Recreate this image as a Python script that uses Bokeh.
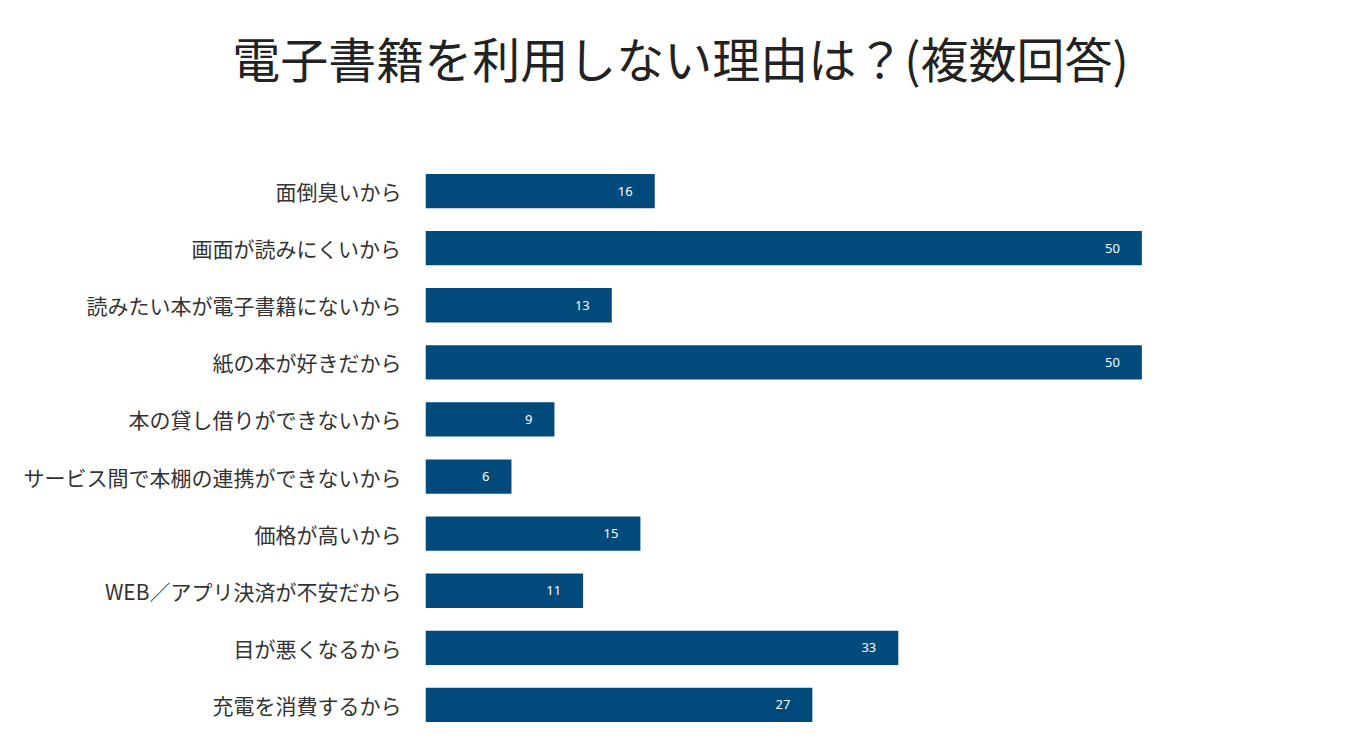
from bokeh.plotting import figure
from bokeh.models import ColumnDataSource, FactorRange, Range1d
from bokeh.layouts import column
from bokeh.core.properties import value
from bokeh.embed import file_html
from bokeh.resources import INLINE

categories = [
    "面倒臭いから",
    "画面が読みにくいから",
    "読みたい本が電子書籍にないから",
    "紙の本が好きだから",
    "本の貸し借りができないから",
    "サービス間で本棚の連携ができないから",
    "価格が高いから",
    "WEB／アプリ決済が不安だから",
    "目が悪くなるから",
    "充電を消費するから",
]
counts = [16, 50, 13, 50, 9, 6, 15, 11, 33, 27]
title_text = "電子書籍を利用しない理由は？(複数回答)"

BAR = "#004a7c"
JP = "Noto Sans CJK JP"
W, H, TH = 1348, 739, 115

# --- title strip (pixel coordinates, y measured from top) ---
t = figure(width=W, height=TH, x_range=Range1d(0, W), y_range=Range1d(TH, 0),
           min_border=0, output_backend="svg", toolbar_location=None)
t.axis.visible = False
t.grid.visible = False
t.outline_line_color = None
t.frame_align = False
t.text(x=[680], y=[56], text=[title_text], text_align="center", text_baseline="middle",
       text_font=value(JP), text_font_size="48px", text_color="#222222")

# --- bar chart ---
src = ColumnDataSource(dict(cat=categories, n=counts, lab=[str(v) for v in counts]))

p = figure(
    y_range=FactorRange(*reversed(categories), range_padding=0),
    x_range=(0, 55),
    frame_width=788, frame_height=571,
    min_border_left=425, min_border_right=135,
    min_border_top=162 - TH, min_border_bottom=6,
    output_backend="svg", toolbar_location=None,
    background_fill_color="white", border_fill_color="white",
)
p.frame_align = False
p.outline_line_color = None
p.xgrid.visible = False
p.ygrid.visible = False
p.xaxis.visible = False

p.hbar(y="cat", right="n", left=0, height=0.6, source=src, color=BAR, line_color=None)
p.text(x="n", y="cat", text="lab", source=src, x_offset=-22,
       text_align="right", text_baseline="middle",
       text_font=value("Noto Sans"), text_font_size="13px", text_color="white")

ya = p.yaxis[0]
ya.axis_line_color = None
ya.major_tick_line_color = None
ya.minor_tick_line_color = None
ya.major_tick_out = 0
ya.major_label_standoff = 24
ya.major_label_text_font = JP
ya.major_label_text_font_size = "21px"
ya.major_label_text_color = "#333333"

layout = column(t, p, spacing=0)
open("out.html", "w").write(file_html(layout, INLINE))
